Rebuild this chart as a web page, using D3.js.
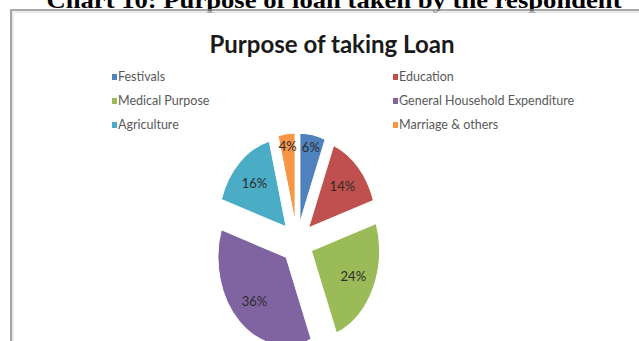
<!DOCTYPE html>
<html>
<head>
<meta charset="utf-8">
<script src="https://cdn.jsdelivr.net/npm/d3@7"></script>
<style>
  html, body { margin: 0; padding: 0; background: #fff; }
  svg { display: block; }
</style>
</head>
<body>
<svg id="chart" width="639" height="341"></svg>
<script>
// Loan purposes (share of respondents, %)
const categories = ["Festivals", "Education", "Medical Purpose",
  "General Household Expenditure", "Agriculture", "Marriage & others"];
const shares = [6, 14, 24, 36, 16, 4];
const colors = ["#4F81BD", "#C0504D", "#9BBB59", "#8064A2", "#4BACC6", "#F79646"];
const figureCaption = "Chart 10: Purpose of loan taken by the respondent";
const chartTitle = "Purpose of taking Loan";

const svg = d3.select("#chart");
const W = 639, H = 341;

svg.append("rect").attr("width", W).attr("height", H).attr("fill", "#fff");

// Figure caption above the framed chart
svg.append("text")
  .attr("x", 334).attr("y", 8)
  .attr("text-anchor", "middle")
  .attr("font-family", "Liberation Serif, Times New Roman, serif")
  .attr("font-weight", "bold")
  .attr("font-size", 24)
  .attr("textLength", 575)
  .attr("lengthAdjust", "spacingAndGlyphs")
  .attr("fill", "#000")
  .text(figureCaption);

// Chart frame (left and top edges visible)
svg.append("path")
  .attr("d", `M11,${H} V10 H${W}`)
  .attr("fill", "none")
  .attr("stroke", "#8e8e8e")
  .attr("stroke-width", 1.6);
svg.append("path")
  .attr("d", `M13,${H} V12 H${W}`)
  .attr("fill", "none")
  .attr("stroke", "#e4e4e4")
  .attr("stroke-width", 1.5);

// Chart title
svg.append("text")
  .attr("x", 332).attr("y", 53)
  .attr("text-anchor", "middle")
  .attr("font-family", "Lato, Open Sans, sans-serif")
  .attr("font-weight", "bold")
  .attr("font-size", 24)
  .attr("textLength", 245)
  .attr("lengthAdjust", "spacingAndGlyphs")
  .attr("fill", "#1a1a1a")
  .text(chartTitle);

// Legend: two columns, three rows, filled row by row
const legendCol = d3.scalePoint().domain([0, 1]).range([112, 393]);
const legendRow = d3.scalePoint().domain([0, 1, 2]).range([77, 125]);
const legend = svg.append("g").selectAll("g")
  .data(categories)
  .join("g")
  .attr("transform", (d, i) => `translate(${legendCol(i % 2)},${legendRow(Math.floor(i / 2))})`);
legend.append("rect")
  .attr("x", 0).attr("y", -3)
  .attr("width", 5).attr("height", 6)
  .attr("fill", (d, i) => colors[i]);
legend.append("text")
  .attr("x", 6).attr("y", 4)
  .attr("font-family", "Lato, Open Sans, sans-serif")
  .attr("font-size", 12.5)
  .attr("fill", "#595959")
  .text(d => d);

// Exploded pie, drawn in a vertically stretched frame
const cx = 297, cy = 242, r = 68, explode = 16, sy = 1.3;
const pie = d3.pie().sort(null).value(d => d);
const arcs = pie(shares);
const arc = d3.arc().innerRadius(0).outerRadius(r);
const mid = a => (a.startAngle + a.endAngle) / 2;

const pieG = svg.append("g").attr("transform", `translate(${cx},${cy}) scale(1,${sy})`);
pieG.selectAll("path")
  .data(arcs)
  .join("path")
  .attr("transform", a => `translate(${explode * Math.sin(mid(a))},${-explode * Math.cos(mid(a))})`)
  .attr("d", arc)
  .attr("fill", (a, i) => colors[i])
  .attr("stroke", "#fff")
  .attr("stroke-width", 0.8);

// Percentage labels; narrow slices get their label pushed outward
const labelRadius = a => explode + r * ((a.endAngle - a.startAngle) < 0.5 ? 0.85 : 0.68);
svg.append("g").selectAll("text")
  .data(arcs)
  .join("text")
  .attr("x", a => cx + labelRadius(a) * Math.sin(mid(a)))
  .attr("y", a => cy - labelRadius(a) * Math.cos(mid(a)) * sy)
  .attr("dy", "0.35em")
  .attr("text-anchor", "middle")
  .attr("font-family", "Lato, Open Sans, sans-serif")
  .attr("font-size", 13)
  .attr("fill", "#2b2b2b")
  .text(a => a.data + "%");
</script>
</body>
</html>
